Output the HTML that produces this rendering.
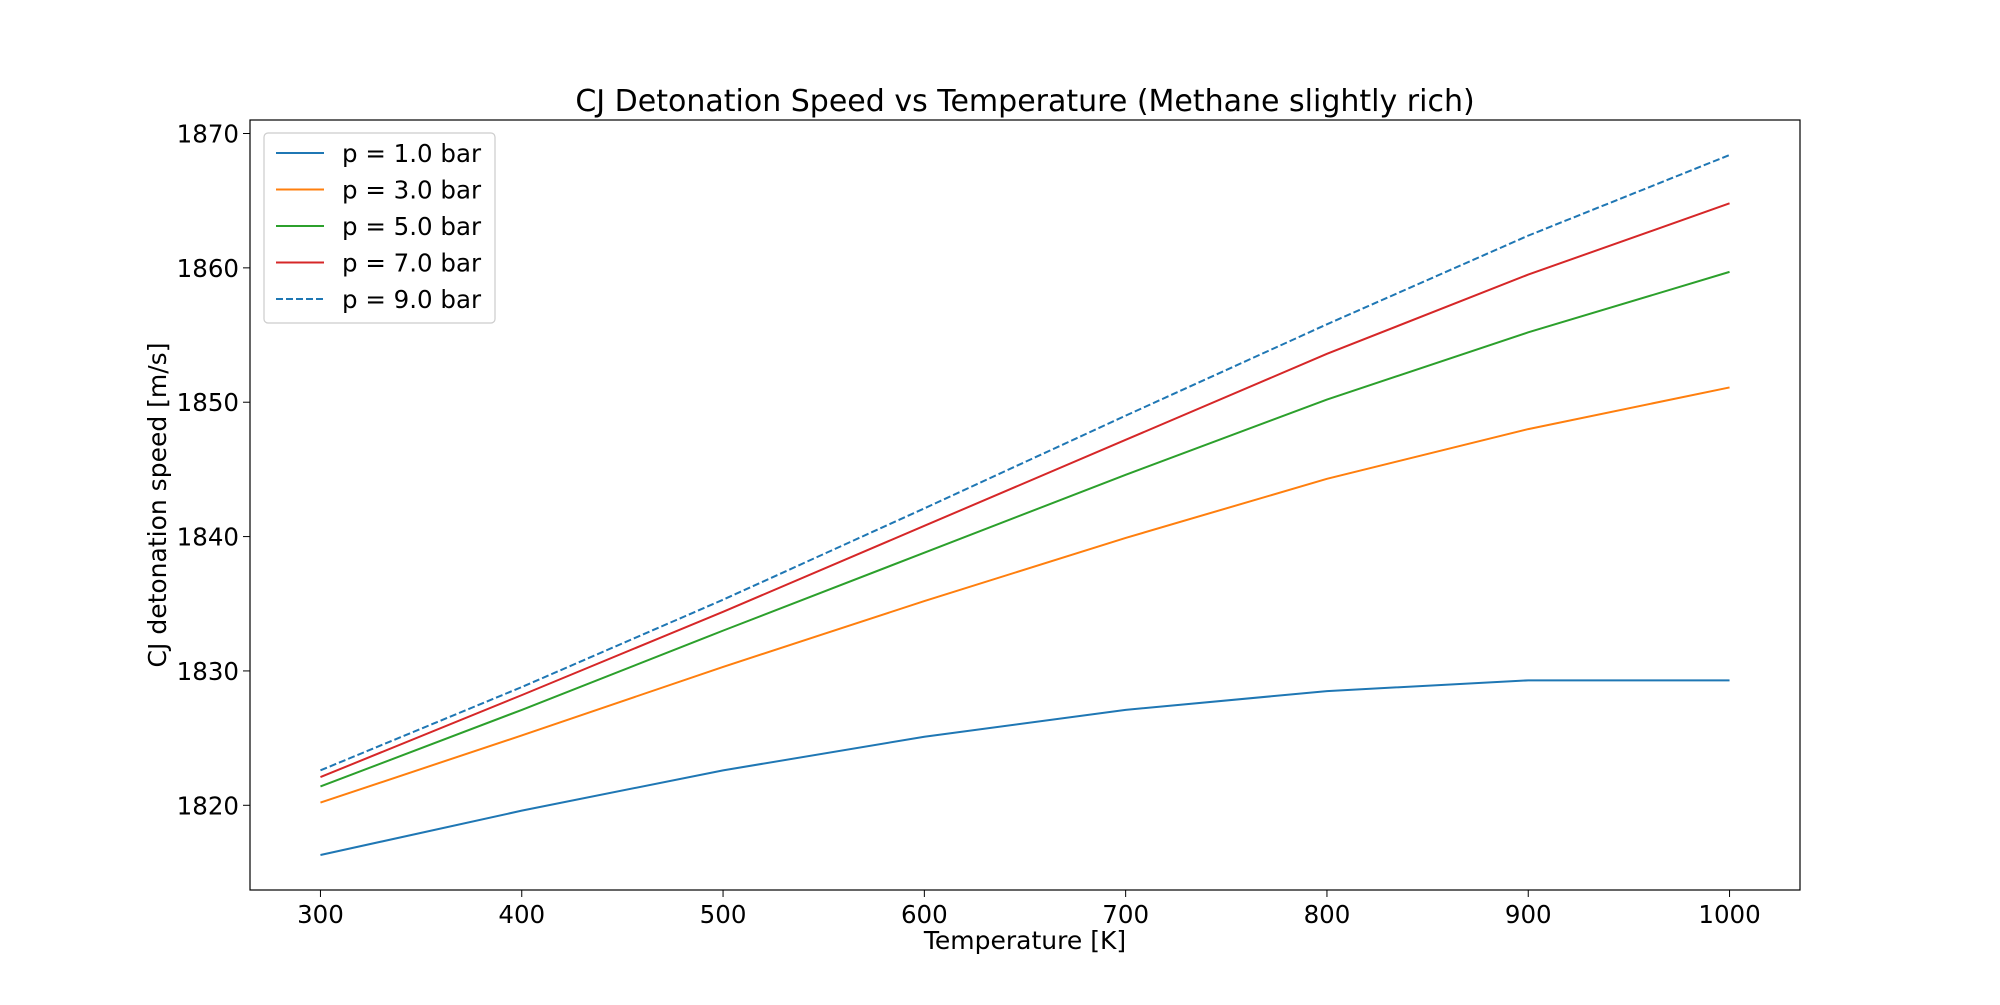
<!DOCTYPE html>
<html><head><meta charset="utf-8"><style>
body{margin:0;background:#fff}
svg text{font-family:"DejaVu Sans","Liberation Sans",sans-serif;fill:#000}
</style></head><body>
<svg width="2000" height="1000" viewBox="0 0 2000 1000">
<g id="plot"></g>
</svg>
<script>
const temps=[300,400,500,600,700,800,900,1000];
const p1=[1816.3,1819.6,1822.6,1825.1,1827.1,1828.5,1829.3,1829.3];
const p3=[1820.2,1825.2,1830.3,1835.2,1839.9,1844.3,1848.0,1851.1];
const p5=[1821.4,1827.1,1833.0,1838.8,1844.6,1850.2,1855.2,1859.7];
const p7=[1822.1,1828.2,1834.4,1840.8,1847.2,1853.6,1859.5,1864.8];
const p9=[1822.6,1828.8,1835.3,1842.1,1849.0,1855.8,1862.4,1868.4];
const seriesLabels=["p = 1.0 bar","p = 3.0 bar","p = 5.0 bar","p = 7.0 bar","p = 9.0 bar"];
const xTicks=[300,400,500,600,700,800,900,1000];
const yTicks=[1820,1830,1840,1850,1860,1870];

const NS="http://www.w3.org/2000/svg";
const g=document.getElementById('plot');
const L=250,R=1800,T=120,B=890;
const allY=[].concat(p1,p3,p5,p7,p9);
const ymin0=Math.min(...allY),ymax0=Math.max(...allY),yr=ymax0-ymin0;
const ymin=ymin0-0.05*yr,ymax=ymax0+0.05*yr;
const xmin0=Math.min(...temps),xmax0=Math.max(...temps),xr=xmax0-xmin0;
const xmin=xmin0-0.05*xr,xmax=xmax0+0.05*xr;
const X=v=>L+(v-xmin)/(xmax-xmin)*(R-L);
const Y=v=>B-(v-ymin)/(ymax-ymin)*(B-T);
function el(t,a,txt){const e=document.createElementNS(NS,t);for(const k in a)e.setAttribute(k,a[k]);if(txt!==undefined)e.textContent=txt;g.appendChild(e);return e;}

const title=el('text',{x:(L+R)/2,y:111,'text-anchor':'middle','font-size':30},'CJ Detonation Speed vs Temperature (Methane slightly rich)');


const xl=el('text',{x:(L+R)/2,y:949,'text-anchor':'middle','font-size':25},'Temperature [K]');


const yl=el('text',{x:0,y:0,'text-anchor':'middle','font-size':25,transform:'translate(166,505) rotate(-90)'},'CJ detonation speed [m/s]');



xTicks.forEach(v=>{
  const tk=el('line',{x1:X(v),x2:X(v),y1:B,y2:B+7,stroke:'#000','stroke-width':1});
  
  
  const t=el('text',{x:X(v),y:B+33,'text-anchor':'middle','font-size':24.5},String(v));
  
  
});
yTicks.forEach(v=>{
  const tk=el('line',{x1:L-7,x2:L,y1:Y(v),y2:Y(v),stroke:'#000','stroke-width':1});
  
  
  const t=el('text',{x:L-11,y:Y(v)+9,'text-anchor':'end','font-size':24.5},String(v));
  
  
});

const colors=['#1f77b4','#ff7f0e','#2ca02c','#d62728','#1f77b4'];
const dashes=['','','','','7,3'];
[p1,p3,p5,p7,p9].forEach((s,i)=>{
  const pts=s.map((v,j)=>X(temps[j])+','+Y(v)).join(' ');
  const pl=el('polyline',{points:pts,fill:'none',stroke:colors[i],'stroke-width':2,'stroke-dasharray':dashes[i]});
  
  
});

const frame=el('rect',{x:L,y:T,width:R-L,height:B-T,fill:'none',stroke:'#000','stroke-width':1.2});



const lg=el('rect',{x:264,y:133,width:231,height:190,rx:4,fill:'#fff',stroke:'#ccc','stroke-width':1.2});


seriesLabels.forEach((s,i)=>{
  const y=153+i*36.5;
  const ln=el('line',{x1:276,x2:324,y1:y,y2:y,stroke:colors[i],'stroke-width':2,'stroke-dasharray':dashes[i]});
  
  
  const t=el('text',{x:342,y:y+9,'font-size':24.5},s);
  
  
});
</script>
</body></html>
